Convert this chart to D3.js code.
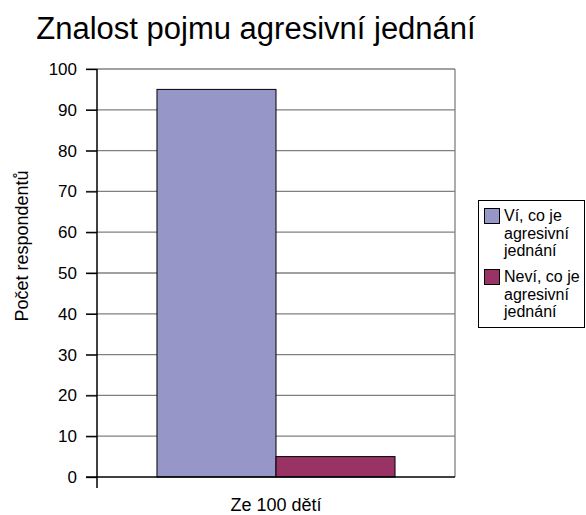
<!DOCTYPE html>
<html>
<head>
<meta charset="utf-8">
<script src="https://cdn.jsdelivr.net/npm/d3@7"></script>
<style>
  html, body { margin: 0; padding: 0; background: #fff; }
  svg { display: block; font-family: "Liberation Sans", Arial, sans-serif; }
</style>
</head>
<body>
<svg id="chart" width="586" height="515"></svg>
<script>
const categories = ["Ze 100 dětí"];
const seriesNames = ["Ví, co je agresivní jednání", "Neví, co je agresivní jednání"];
const seriesLegendLines = [["Ví, co je", "agresivní", "jednání"], ["Neví, co je", "agresivní", "jednání"]];
const seriesValues = [[95], [5]];
const seriesColors = ["#9696C9", "#993366"];
const yTicks = [0, 10, 20, 30, 40, 50, 60, 70, 80, 90, 100];
const titleText = "Znalost pojmu agresivní jednání";
const yAxisTitle = "Počet respondentů";

const svg = d3.select("#chart");
const plot = { left: 97, right: 455, top: 69, bottom: 477 };

const y = d3.scaleLinear().domain([0, 100]).range([plot.bottom, plot.top]);
const x0 = d3.scaleBand().domain(categories).range([plot.left, plot.right])
  .paddingInner(0).paddingOuter(0.252);
const x1 = d3.scaleBand().domain(d3.range(seriesNames.length)).range([0, x0.bandwidth()]).padding(0);

// gridlines
svg.append("g").selectAll("line").data(yTicks.filter(d => d > 0)).join("line")
  .attr("x1", plot.left - 11).attr("x2", plot.right)
  .attr("y1", d => y(d)).attr("y2", d => y(d))
  .attr("stroke", "#808080").attr("stroke-width", 1.3);

// right border
svg.append("line").attr("x1", plot.right).attr("x2", plot.right)
  .attr("y1", plot.top).attr("y2", plot.bottom)
  .attr("stroke", "#808080").attr("stroke-width", 1.3);

// bars
const g = svg.append("g");
categories.forEach((c, ci) => {
  seriesValues.forEach((vals, si) => {
    g.append("rect")
      .attr("x", x0(c) + x1(si))
      .attr("y", y(vals[ci]))
      .attr("width", x1.bandwidth())
      .attr("height", y(0) - y(vals[ci]))
      .attr("fill", seriesColors[si])
      .attr("stroke", "#000").attr("stroke-width", 1);
  });
});

// y axis
const yAxis = d3.axisLeft(y).tickValues(yTicks).tickSize(11).tickPadding(9);
const ya = svg.append("g").attr("transform", `translate(${plot.left},0)`).call(yAxis);
ya.select(".domain").remove();
ya.selectAll(".tick line").attr("stroke", "#000").attr("stroke-width", 1.3);
ya.selectAll(".tick text").attr("font-size", 17).attr("fill", "#000")
  .attr("font-family", "Liberation Sans, Arial, sans-serif");
svg.append("line").attr("x1", plot.left).attr("x2", plot.left)
  .attr("y1", plot.top).attr("y2", plot.bottom + 11)
  .attr("stroke", "#000").attr("stroke-width", 1.5);

// x axis line at 0
svg.append("line").attr("x1", plot.left - 11).attr("x2", plot.right)
  .attr("y1", y(0)).attr("y2", y(0))
  .attr("stroke", "#000").attr("stroke-width", 1.5);

// x category label
svg.append("g").selectAll("text").data(categories).join("text")
  .attr("x", d => x0(d) + x0.bandwidth() / 2)
  .attr("y", 511)
  .attr("text-anchor", "middle").attr("font-size", 18).attr("fill", "#000")
  .text(d => d);

// title
svg.append("text").attr("x", 256).attr("y", 39)
  .attr("text-anchor", "middle").attr("font-size", 31).attr("fill", "#000")
  .text(titleText);

// y axis title
svg.append("text").attr("transform", "translate(28,246) rotate(-90)")
  .attr("text-anchor", "middle").attr("font-size", 18).attr("fill", "#000")
  .text(yAxisTitle);

// legend
const lg = svg.append("g");
lg.append("rect").attr("x", 478.5).attr("y", 200.5).attr("width", 106).attr("height", 127)
  .attr("fill", "#fff").attr("stroke", "#000").attr("stroke-width", 1);
seriesNames.forEach((name, i) => {
  const top = 208 + i * 61;
  lg.append("rect").attr("x", 484.5).attr("y", top + 0.5).attr("width", 15).attr("height", 15)
    .attr("fill", seriesColors[i]).attr("stroke", "#000").attr("stroke-width", 1);
  const t = lg.append("text").attr("x", 504).attr("y", top + 13)
    .attr("font-size", 16).attr("fill", "#000");
  seriesLegendLines[i].forEach((line, li) => {
    t.append("tspan").attr("x", 504).attr("dy", li === 0 ? 0 : 17.5).text(line);
  });
});
</script>
</body>
</html>
